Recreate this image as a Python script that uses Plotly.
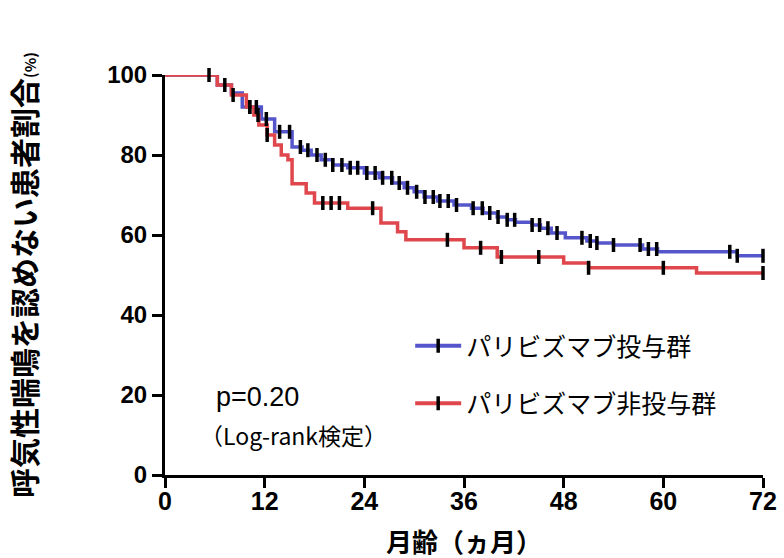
import numpy as np
import plotly.graph_objects as go

# ---- data ----
months_ticks = [0, 12, 24, 36, 48, 60, 72]
pct_ticks = [0, 20, 40, 60, 80, 100]

series_names = ["パリビズマブ投与群", "パリビズマブ非投与群"]

# Palivizumab group: step times (months) and survival (%) after each step
blue_times = [0, 6.3, 8.0, 9.3, 11.6, 13.2, 15.3, 16.5, 17.6, 18.8, 20.2, 22.0, 24.0,
              25.8, 27.4, 28.8, 30.0, 31.2, 32.8, 34.8, 36.9, 38.3, 40.0, 41.2, 42.2,
              44.2, 45.2, 46.5, 48.2, 50.8, 52.0, 54.0, 57.5, 59.3, 68.9, 72]
blue_surv = [100, 97.5, 95.5, 92.0, 89.0, 85.8, 82.0, 81.2, 80.0, 78.8, 77.5, 76.8, 75.5,
             74.3, 73.0, 71.8, 70.8, 69.5, 68.5, 67.5, 66.7, 65.5, 64.5, 63.8, 63.2,
             62.5, 61.7, 60.5, 59.3, 58.5, 58.0, 57.5, 56.5, 55.8, 54.8, 54.8]
blue_censor = [5.3, 7.2, 10.2, 11.0, 12.2, 13.8, 15.0, 16.3, 17.2, 18.3, 19.3, 20.2, 21.3,
               22.3, 23.2, 24.3, 25.3, 26.2, 27.3, 28.2, 29.2, 30.3, 31.3, 32.3, 33.1,
               34.1, 35.1, 37.1, 38.2, 39.1, 40.1, 41.2, 42.1, 44.2, 45.1, 46.1, 47.2,
               50.2, 51.2, 52.0, 54.0, 57.2, 58.2, 59.2, 68.0, 68.9, 72]

# Non-palivizumab group
red_times = [0, 6.3, 8.0, 9.8, 10.7, 11.3, 12.3, 13.2, 14.0, 14.8, 15.3, 17.0, 18.0,
             22.0, 26.0, 28.0, 29.0, 36.0, 40.0, 48.0, 51.0, 64.0, 72]
red_surv = [100, 97.5, 95.0, 92.0, 90.0, 87.5, 85.0, 82.5, 80.0, 78.8, 72.8, 70.5, 68.0,
            66.7, 63.0, 60.8, 58.8, 56.8, 54.5, 53.0, 51.8, 50.5, 50.5]
red_censor = [8.2, 10.2, 11.2, 12.3, 19.0, 20.0, 21.0, 25.0, 34.0, 38.0, 40.5, 45.0,
              51.0, 60.0, 72]

p_text = "p=0.20"
test_text = "（Log-rank検定）"
x_title = "月齢（ヵ月）"
y_title = "呼気性喘鳴を認めない患者割合"

BLUE = "#5656cc"
RED = "#e0474c"


def step_lookup(times, surv, pts):
    t = np.asarray(times)
    s = np.asarray(surv)
    idx = np.searchsorted(t, np.asarray(pts), side="right") - 1
    return s[np.clip(idx, 0, len(s) - 1)]


fig = go.Figure()

for times, surv, color in [(blue_times, blue_surv, BLUE), (red_times, red_surv, RED)]:
    fig.add_trace(go.Scatter(x=times, y=surv, mode="lines", line=dict(color=color, width=3.5, shape="hv"),
                             showlegend=False, hoverinfo="skip", cliponaxis=False))

for times, surv, cens in [(blue_times, blue_surv, blue_censor), (red_times, red_surv, red_censor)]:
    fig.add_trace(go.Scatter(x=cens, y=step_lookup(times, surv, cens), mode="markers",
                             marker=dict(symbol="line-ns-open", size=10, color="black",
                                         line=dict(width=3.5, color="black")),
                             showlegend=False, hoverinfo="skip", cliponaxis=False))

for name, color, grp in [(series_names[0], BLUE, "a"), (series_names[1], RED, "b")]:
    fig.add_trace(go.Scatter(x=[None], y=[None], mode="lines+markers", name=name, legendgroup=grp,
                             line=dict(color=color, width=4),
                             marker=dict(symbol="line-ns-open", size=10, color="black",
                                         line=dict(width=3.5, color="black"))))

fig.add_annotation(x=5.9, y=19.5, xref="x", yref="y", text=p_text, showarrow=False,
                   xanchor="left", yanchor="middle",
                   font=dict(family="Liberation Sans, Arial", size=27, color="black"))
fig.add_annotation(x=4.0, y=10, xref="x", yref="y", text=test_text, showarrow=False,
                   xanchor="left", yanchor="middle",
                   font=dict(family="Noto Sans CJK JP", size=23, color="black"))

fig.add_annotation(x=-0.2375, y=0.5, xref="paper", yref="paper",
                   text=y_title + "<span style='font-size:15px'>(%)</span>",
                   textangle=-90, showarrow=False, xanchor="center", yanchor="middle",
                   font=dict(family="Noto Sans CJK JP", size=30, color="black", weight="bold"))

fig.add_annotation(x=0.5, y=-0.1625, xref="paper", yref="paper", text=x_title,
                   showarrow=False, xanchor="center", yanchor="middle",
                   font=dict(family="Noto Sans CJK JP", size=26, color="black", weight="bold"))

fig.update_xaxes(range=[0, 72], tickvals=months_ticks, ticktext=[str(v) for v in months_ticks],
                 showline=True, linecolor="black", linewidth=3, ticks="outside", ticklen=10,
                 tickwidth=3, tickcolor="black", showgrid=False, zeroline=False,
                 tickfont=dict(family="Liberation Sans, Arial", size=25, color="black", weight="bold"))
try:
    fig.update_xaxes(ticklabelstandoff=-8)
except Exception:
    pass
fig.update_yaxes(range=[0, 100], tickvals=pct_ticks, ticktext=[str(v) for v in pct_ticks],
                 showline=True, linecolor="black", linewidth=3, ticks="outside", ticklen=10,
                 tickwidth=3, tickcolor="black", showgrid=False, zeroline=False,
                 tickfont=dict(family="Liberation Sans, Arial", size=24, color="black", weight="bold"))

fig.update_layout(
    width=784, height=558,
    margin=dict(l=165, r=21, t=75, b=83, autoexpand=False),
    paper_bgcolor="white", plot_bgcolor="white",
    showlegend=True,
    legend=dict(x=0.41, y=0.38, xanchor="left", yanchor="top", bgcolor="rgba(0,0,0,0)",
                itemwidth=46, tracegroupgap=22, traceorder="grouped",
                font=dict(family="Noto Sans CJK JP", size=25, color="black")),
)

fig.write_html("out.html", config={"displayModeBar": False},
               post_script="document.body.style.margin='0';")
